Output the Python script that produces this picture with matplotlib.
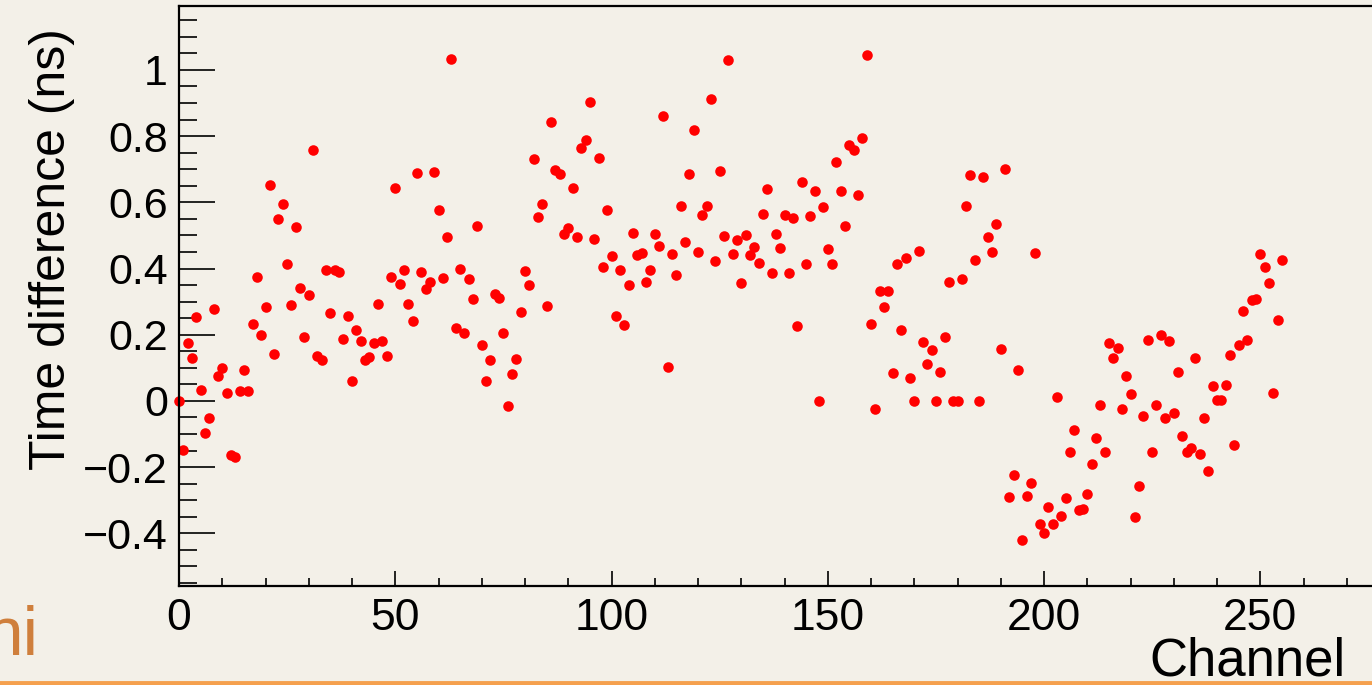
import numpy as np
import matplotlib.pyplot as plt
from matplotlib.ticker import MultipleLocator, FuncFormatter

# time difference per channel (ns)
channel = np.arange(256)
time_diff = [
    0.0, -0.148, 0.176, 0.13, 0.255, 0.034, -0.098, -0.051, 0.277, 0.074,
    0.10, 0.023, -0.162, -0.17, 0.029, 0.093, 0.029, 0.232, 0.373, 0.198,
    0.283, 0.653, 0.143, 0.549, 0.594, 0.415, 0.29, 0.526, 0.34, 0.194,
    0.319, 0.757, 0.136, 0.124, 0.396, 0.267, 0.395, 0.389, 0.188, 0.257,
    0.059, 0.213, 0.181, 0.124, 0.132, 0.174, 0.294, 0.182, 0.137, 0.373,
    0.642, 0.353, 0.395, 0.294, 0.241, 0.688, 0.389, 0.337, 0.359, 0.692,
    0.576, 0.37, 0.494, 1.034, 0.22, 0.40, 0.205, 0.368, 0.308, 0.527,
    0.169, 0.059, 0.124, 0.323, 0.312, 0.204, -0.014, 0.081, 0.126, 0.269,
    0.392, 0.35, 0.73, 0.556, 0.596, 0.286, 0.844, 0.699, 0.685, 0.504,
    0.523, 0.644, 0.494, 0.765, 0.788, 0.902, 0.49, 0.735, 0.404, 0.576,
    0.439, 0.256, 0.395, 0.229, 0.349, 0.506, 0.441, 0.447, 0.358, 0.396,
    0.504, 0.468, 0.861, 0.104, 0.444, 0.379, 0.589, 0.479, 0.685, 0.819,
    0.45, 0.562, 0.589, 0.911, 0.423, 0.695, 0.498, 1.031, 0.444, 0.486,
    0.357, 0.502, 0.44, 0.465, 0.418, 0.564, 0.64, 0.385, 0.505, 0.461,
    0.561, 0.387, 0.553, 0.227, 0.66, 0.415, 0.56, 0.635, 0.0, 0.587,
    0.458, 0.415, 0.723, 0.635, 0.527, 0.774, 0.757, 0.622, 0.794, 1.045,
    0.232, -0.023, 0.333, 0.284, 0.333, 0.083, 0.415, 0.213, 0.432, 0.07,
    0.0, 0.454, 0.178, 0.112, 0.154, 0.0, 0.086, 0.192, 0.359, 0.0,
    0.0, 0.368, 0.59, 0.681, 0.426, 0.0, 0.676, 0.495, 0.45, 0.534,
    0.158, 0.70, -0.289, -0.225, 0.092, -0.421, -0.286, -0.249, 0.448, -0.371,
    -0.40, -0.32, -0.371, 0.012, -0.348, -0.294, -0.153, -0.089, -0.328, -0.326,
    -0.28, -0.189, -0.112, -0.013, -0.153, 0.176, 0.131, 0.161, -0.024, 0.075,
    0.02, -0.352, -0.257, -0.045, 0.183, -0.153, -0.012, 0.20, -0.052, 0.181,
    -0.037, 0.087, -0.107, -0.153, -0.141, 0.129, -0.159, -0.051, -0.213, 0.046,
    0.002, 0.002, 0.048, 0.14, -0.132, 0.17, 0.271, 0.183, 0.304, 0.307,
    0.443, 0.406, 0.356, 0.024, 0.243, 0.426,
]

bg = "#f3f0e8"
plt.rcParams['font.family'] = ['Liberation Sans', 'DejaVu Sans']

fig = plt.figure(figsize=(13.72, 6.85), dpi=100, facecolor=bg)
# the frame runs past the right edge of the picture (cropped slide)
ax = fig.add_axes([179/1372, 1-586/685, 1211/1372, 580/685], facecolor=bg)

ax.plot(channel, time_diff, 'o', color='#ff0000', ms=7.6, mew=0, clip_on=False)

ax.set_xlim(0, 280)
ax.set_ylim(-0.559, 1.193)

ax.xaxis.set_major_locator(MultipleLocator(50))
ax.xaxis.set_minor_locator(MultipleLocator(10))
ax.yaxis.set_major_locator(MultipleLocator(0.2))
ax.yaxis.set_minor_locator(MultipleLocator(0.05))

def fmt(v, pos):
    s = "%g" % round(v, 3)
    return s.replace("-", "\u2212")

ax.yaxis.set_major_formatter(FuncFormatter(fmt))

ax.tick_params(axis='y', which='major', direction='in', length=26, width=1.2,
               labelsize=31, pad=8, color='black')
ax.tick_params(axis='y', which='minor', direction='in', length=13, width=1.2)
ax.tick_params(axis='x', which='major', direction='in', length=11, width=1.2,
               labelsize=32, pad=9)
ax.tick_params(axis='x', which='minor', direction='in', length=5.5, width=1.2)

for sp in ax.spines.values():
    sp.set_linewidth(1.6)

# axis titles, ROOT style
fig.text(52/1372, 1-28/685, "Time difference (ns)", rotation=90, ha='center',
         va='top', fontsize=36)
fig.text(1345/1372, 1-675/685, "Channel", ha='right', va='baseline', fontsize=38)

# slide footer remnants
fig.text(38/1372, 1-655/685, "ni", ha='right', va='baseline', fontsize=50,
         color='#cf7f3c')
fig.add_artist(plt.Line2D([0, 1], [1-683/685, 1-683/685], color='#f5a04e',
                          lw=3.5, transform=fig.transFigure))

fig.savefig("out.png", dpi=100, facecolor=bg)
